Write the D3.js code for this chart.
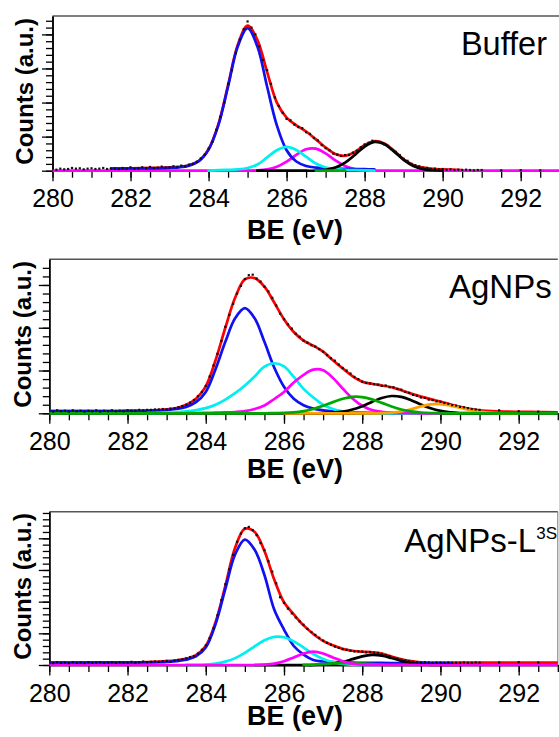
<!DOCTYPE html>
<html><head><meta charset="utf-8">
<script src="https://cdn.jsdelivr.net/npm/d3@7/dist/d3.min.js"></script>
<style>body{margin:0;background:#fff}svg{display:block}</style>
</head><body>
<script>
const _ = null;
// Binding energy sampling grid (eV) for the fitted curves
const BE = [280,280.5,281,281.5,282,282.5,283,283.25,283.5,283.75,284,284.25,284.5,284.75,285,285.25,285.5,285.75,286,286.25,286.5,286.75,287,287.25,287.5,287.75,288,288.25,288.5,288.75,289,289.25,289.5,289.75,290,290.25,290.5,290.75,291,291.5,292,292.5,293];
const X_TICKS = [280,282,284,286,288,290,292];

// ---- Buffer ----
const bufRed     = [_,_,_,.65,.7,.8,.95,1.15,1.6,2.9,6.3,13.6,25.1,37.0,42.6,38.4,29.0,20.0,15.6,13.3,11.5,9.2,6.8,4.9,4.4,5.5,7.55,8.65,8.0,5.9,3.35,1.7,.9,.55,.4,.3,.2,_,_,_,_,_,_];
const bufBlue    = [_,_,_,.6,.65,.7,.85,1.0,1.5,2.8,6.2,13.3,24.7,36.5,41.8,36.5,24.7,13.3,6.0,2.7,1.4,.9,.7,.6,.55,.5,.45,.4,_,_,_,_,_,_,_,_,_,_,_,_,_,_,_];
const bufCyan    = [_,_,_,_,_,_,_,_,_,_,.05,.15,.25,.4,.8,1.8,3.9,6.0,7.0,6.1,4.1,2.1,.95,.45,.25,.15,.1,.05,_,_,_,_,_,_,_,_,_,_,_,_,_,_,_];
const bufMagenta = [0,0,0,0,0,0,0,0,0,0,0,0,0,0,.02,.09,.37,1.13,2.64,4.66,6.28,6.46,5.06,3.02,1.37,.48,.13,.03,0,0,0,0,0,0,0,0,0,0,0,0,0,0,0];
const bufBlack   = [_,_,_,_,_,_,_,_,_,_,_,_,_,_,_,0,0,0,0,0,0,0,.29,.94,2.36,4.64,7.10,8.46,7.85,5.67,3.19,1.40,.48,.13,.03,_,_,_,_,_,_,_,_];
const bufGreen   = [_,_,_,_,_,_,_,_,_,_,_,_,_,_,_,_,_,_,_,_,_,0,0,0,0,_,_,_,_,_,_,_,_,_,_,_,_,_,_,_,_,_,_];

// ---- AgNPs ----
const agRed     = [.5,.5,.5,.52,.55,.62,.9,1.25,2.0,3.4,6.3,12.4,20.0,27.0,31.3,31.6,29.6,25.9,22.0,19.0,17.0,15.8,14.4,12.4,10.5,8.7,7.4,6.9,6.5,6.1,5.4,4.6,3.9,3.3,2.75,2.1,1.5,1.05,.7,.45,.35,.3,.25];
const agBlue    = [.5,.5,.5,.52,.55,.6,.75,1.0,1.5,2.6,5.0,10.3,16.7,22.2,24.6,22.2,16.7,10.7,6.2,3.4,1.9,1.1,.7,.45,.3,.2,.15,.12,.1,.08,.05,_,_,_,_,_,_,_,_,_,_,_,_];
const agCyan    = [_,_,_,_,_,.02,.15,.25,.45,.75,1.2,2.0,3.2,4.7,6.5,8.6,10.9,11.7,10.95,8.5,5.7,3.7,2.0,1.0,.45,.17,.08,.03,0,0,0,0,0,0,0,_,_,_,_,_,_,_,_];
const agMagenta = [_,_,_,_,_,_,_,_,.02,.05,.1,.15,.2,.3,.5,1.0,1.84,3.34,5.0,7.2,9.0,10.2,10.07,8.28,5.8,3.46,1.76,.76,.35,.15,.08,.03,0,0,0,_,_,_,_,_,_,_,_];
const agGreen   = [0,0,0,0,0,0,0,0,0,0,0,0,0,0,0,0,0,.05,.09,.23,.52,1.02,1.75,2.61,3.40,3.86,3.80,3.26,2.44,1.59,.90,.44,.19,.07,.02,0,0,0,0,0,0,0,0];
const agBlack   = [_,_,_,_,_,_,_,_,_,_,_,_,_,_,_,_,_,_,_,_,0,0,.04,.14,.39,.88,1.66,2.66,3.57,4.04,3.83,3.06,2.05,1.16,.55,.22,.07,.02,0,_,_,_,_];
const agOrange  = [_,_,_,_,_,_,_,_,_,_,_,_,_,_,_,_,_,_,0,0,0,0,0,0,0,0,0,0,.05,.16,.44,.94,1.6,2.1,2.16,1.8,1.3,.75,.35,.05,0,_,_];

// ---- AgNPs-L3S ----
const lRed     = [.75,.75,.8,.8,.85,.95,1.2,1.5,2.0,3.1,6.0,13.5,25.0,37.0,43.0,42.0,36.0,27.0,19.8,16.0,12.5,9.8,7.6,6.2,5.1,4.5,4.2,4.0,3.6,2.7,1.8,1.2,.85,.75,.72,.72,.72,.72,.72,.72,.72,.72,.72];
const lBlue    = [.72,.72,.72,.73,.75,.8,.95,1.25,1.7,2.7,5.5,12.9,24.0,34.9,39.6,36.4,28.4,17.5,11.2,6.0,3.3,1.6,1.1,.9,.8,.75,.7,.68,.65,.62,.6,.58,.57,.56,.55,.5,_,_,_,_,_,_,_];
const lCyan    = [_,_,_,_,_,_,_,_,.01,.05,.16,.44,1.05,2.17,3.85,5.9,7.8,8.9,8.77,7.45,5.5,3.47,1.9,.9,.37,.13,.04,0,0,_,_,_,_,_,_,_,_,_,_,_,_,_,_];
const lMagenta = [0,0,0,0,0,0,0,0,0,0,0,0,0,0,0,0,.13,.45,1.2,2.4,3.65,4.2,3.65,2.4,1.2,.45,.13,.03,0,0,0,0,0,0,0,0,0,0,0,0,0,0,0];
const lBlack   = [_,_,_,_,_,_,_,_,_,_,_,_,_,_,_,0,0,0,0,0,0,0,.15,.43,1.0,1.84,2.72,3.18,2.97,2.2,1.32,.62,.24,.07,.02,0,0,_,_,_,_,_,_];
const lGreen   = [_,_,_,_,_,_,_,_,_,_,_,_,_,_,_,_,_,_,_,_,.05,.14,.29,.47,.59,.57,.44,.26,.12,.05,.02,0,0,_,_,_,_,_,_,_,_,_,_];

// Raw data points (measured counts, same units) on a 0.1 eV grid
const DOT_BE = [280.0,280.1,280.2,280.3,280.4,280.5,280.6,280.7,280.8,280.9,
 281.0,281.1,281.2,281.3,281.4,281.5,281.6,281.7,281.8,281.9,
 282.0,282.1,282.2,282.3,282.4,282.5,282.6,282.7,282.8,282.9,
 283.0,283.1,283.2,283.3,283.4,283.5,283.6,283.7,283.8,283.9,
 284.0,284.1,284.2,284.3,284.4,284.5,284.6,284.7,284.8,284.9,
 285.0,285.1,285.2,285.3,285.4,285.5,285.6,285.7,285.8,285.9,
 286.0,286.1,286.2,286.3,286.4,286.5,286.6,286.7,286.8,286.9,
 287.0,287.1,287.2,287.3,287.4,287.5,287.6,287.7,287.8,287.9,
 288.0,288.1,288.2,288.3,288.4,288.5,288.6,288.7,288.8,288.9,
 289.0,289.1,289.2,289.3,289.4,289.5,289.6,289.7,289.8,289.9,
 290.0,290.1,290.2,290.3,290.4,290.5,290.6,290.7,290.8,290.9,
 291.0,291.5,292.0,292.5];
const bufDots = [.5,.3,.6,.4,.5,.8,.6,.7,.4,.6,
 .7,.5,.6,.8,.5,.6,.7,.5,.8,.6,
 1.0,.6,.7,1.0,.7,1.1,.8,.9,1.2,.9,
 1.0,1.3,1.1,1.5,1.3,1.8,2.0,2.6,3.6,4.7,
 6.5,8.5,12.0,15.8,20.0,25.5,29.5,34.5,38.5,41.5,
 43.8,42.0,40.0,36.5,32.5,29.5,25.5,21.5,19.0,17.0,
 15.2,14.8,13.5,12.8,12.5,11.3,10.8,9.6,8.9,7.5,
 6.6,6.0,5.0,4.7,4.3,4.6,4.6,5.3,5.9,6.9,
 7.7,8.2,8.8,8.5,8.4,7.7,7.3,6.2,5.5,4.6,
 3.5,2.9,2.0,1.6,1.3,.9,.8,.5,.6,.4,
 .5,.3,.4,.2,.3,.2,.3,.2,.1,.2,
 .2,.1,.15,.1];
const agDots = [.6,.4,.7,.5,.6,.4,.7,.5,.6,.4,
 .6,.5,.7,.4,.6,.5,.7,.5,.6,.5,
 .7,.6,.6,.8,.7,.8,.8,.9,.9,1.0,
 .9,1.1,1.2,1.4,1.7,2.0,2.5,3.1,4.0,5.0,
 6.4,8.6,11.2,13.9,16.9,20.2,23.0,25.6,28.0,29.8,
 31.4,32.3,32.4,31.5,30.8,29.6,28.5,27.0,25.2,23.3,
 22.0,20.8,19.8,18.6,17.9,17.0,16.5,15.9,15.6,15.0,
 14.4,13.6,12.9,12.3,11.4,10.6,10.0,9.3,8.5,8.0,
 7.4,7.1,7.0,6.8,6.7,6.4,6.5,6.1,6.1,5.7,
 5.5,5.0,4.8,4.3,4.1,3.7,3.6,3.2,3.1,2.8,
 2.7,2.4,2.2,1.9,1.8,1.5,1.4,1.2,1.0,.9,
 .8,.7,.5,.4];
const lDots = [.8,.6,.9,.7,.8,.6,.9,.7,.8,.6,
 .9,.7,.8,.9,.7,.8,.9,.7,.9,.8,
 .8,1.0,.8,.9,1.1,.9,1.0,1.1,1.0,1.2,
 1.3,1.0,1.4,1.6,1.8,2.1,2.5,2.8,3.6,4.8,
 6.2,8.5,11.6,15.7,20.5,25.5,30.2,34.8,38.9,41.5,
 43.2,43.6,42.6,41.0,38.5,36.3,32.8,29.5,25.8,21.4,
 19.6,17.8,16.3,15.0,13.8,12.7,11.4,10.4,9.5,8.6,
 7.7,7.0,6.4,5.8,5.4,5.0,4.8,4.5,4.3,4.3,
 4.2,4.0,4.1,3.9,3.8,3.5,3.1,2.8,2.3,2.0,
 1.7,1.4,1.2,1.0,.9,.8,.9,.8,.7,.8,
 .8,.7,.8,.7,.7,.7,.8,.7,.7,.8,
 .75,.8,.9,.8];

const COLORS = {red:'#ff0000', blue:'#1010f0', cyan:'#00f0f0', magenta:'#ff00ff', black:'#000000', green:'#00a800', orange:'#ffa000'};

const panels = [
  {title:'Buffer', sup:'', box:{l:52.5,r:559.7,t:16,b:170.7}, yMax:45.4, showRight:false,
   series:[[bufRed,'red'],[bufMagenta,'magenta'],[bufBlue,'blue'],[bufCyan,'cyan'],[bufBlack,'black'],[bufGreen,'green']],
   dots:bufDots, titleX:547, titleY:55, titleSize:32.5, tickDy:36.6, xlabY:239.3, ylabX:33},
  {title:'AgNPs', sup:'', box:{l:49.3,r:557.8,t:259.3,b:413.3}, yMax:36.0, showRight:false,
   series:[[agRed,'red'],[agBlue,'blue'],[agCyan,'cyan'],[agMagenta,'magenta'],[agBlack,'black'],[agOrange,'orange'],[agGreen,'green']],
   dots:agDots, titleX:551.7, titleY:298.3, titleSize:33, tickDy:36.7, xlabY:477.6, ylabX:30.5},
  {title:'AgNPs-L', sup:'3S', box:{l:49.3,r:557.8,t:511.7,b:665}, yMax:48.4, showRight:true,
   series:[[lRed,'red'],[lBlue,'blue'],[lCyan,'cyan'],[lBlack,'black'],[lGreen,'green'],[lMagenta,'magenta']],
   dots:lDots, titleX:557, titleY:551.7, titleSize:33, tickDy:37.4, xlabY:725, ylabX:30.5}
];

const FONT = "'Liberation Sans', Arial, Helvetica, sans-serif";
const svg = d3.select('body').append('svg').attr('width',559).attr('height',737);

panels.forEach((p,i)=>{
  const {l,r,t,b} = p.box;
  const x = d3.scaleLinear().domain([280,293]).range([l,r]);
  const y = d3.scaleLinear().domain([0,p.yMax]).range([b,t]);
  const g = svg.append('g');

  // frame
  g.append('line').attr('x1',l).attr('x2',r).attr('y1',t).attr('y2',t).attr('stroke','#555').attr('stroke-width',1.4);
  if(p.showRight) g.append('line').attr('x1',r).attr('x2',r).attr('y1',t).attr('y2',b).attr('stroke','#777').attr('stroke-width',1);

  // y axis
  const yMinor = d3.range(0, p.yMax, 2);
  const yMajor = d3.range(0, p.yMax, 10);
  g.append('g').attr('transform',`translate(${l},0)`).call(d3.axisLeft(y).tickValues(yMinor).tickSize(6.5).tickSizeOuter(0).tickFormat(''));
  g.append('g').attr('transform',`translate(${l},0)`).call(d3.axisLeft(y).tickValues(yMajor).tickSize(10.5).tickSizeOuter(0).tickFormat(''));

  // x axis
  const xMinor = d3.range(280, 293.01, 0.5);
  g.append('g').attr('transform',`translate(0,${b})`).call(d3.axisBottom(x).tickValues(xMinor).tickSize(7).tickSizeOuter(0).tickFormat(''));
  const xa = g.append('g').attr('transform',`translate(0,${b})`).call(d3.axisBottom(x).tickValues(X_TICKS).tickSize(10.5).tickSizeOuter(0).tickFormat(d3.format('d')));
  xa.selectAll('text').attr('y',p.tickDy).attr('dy',0).style('font-family',FONT).style('font-size','25px').attr('fill','#000');
  g.selectAll('.domain').attr('stroke','#000').attr('stroke-width',1.5);
  g.selectAll('.tick line').attr('stroke','#000').attr('stroke-width',1.3);

  // clip
  const cid = 'clip'+i;
  svg.append('clipPath').attr('id',cid).append('rect').attr('x',l).attr('y',t).attr('width',r-l).attr('height',b-t+2);
  const plot = g.append('g').attr('clip-path',`url(#${cid})`);

  const line = d3.line().defined(d=>d[1]!=null).x(d=>x(d[0])).y(d=>y(d[1])).curve(d3.curveCatmullRom.alpha(0.5));
  p.series.forEach(([vals,col])=>{
    const pts = BE.map((be,k)=>[be, vals[k]]);
    plot.append('path').datum(pts).attr('d',line).attr('fill','none')
      .attr('stroke',COLORS[col]).attr('stroke-width',2.7).attr('stroke-linejoin','round').attr('stroke-linecap','round');
  });
  // data points
  plot.selectAll('rect.dot').data(DOT_BE.map((be,k)=>[be,p.dots[k]])).enter().append('rect')
    .attr('class','dot').attr('x',d=>x(d[0])-1.1).attr('y',d=>y(d[1])-1.1).attr('width',2.2).attr('height',2.2).attr('fill','#111');

  // title
  const tt = g.append('text').attr('x',p.titleX).attr('y',p.titleY).attr('text-anchor','end')
    .style('font-family',FONT).style('font-size',p.titleSize+'px').attr('fill','#000').text(p.title);
  if(p.sup) tt.append('tspan').attr('dy',-13).style('font-size','17px').text(p.sup);

  // axis labels
  g.append('text').attr('x',295).attr('y',p.xlabY).attr('text-anchor','middle')
    .style('font-family',FONT).style('font-size','27px').style('font-weight','bold').text('BE (eV)');
  g.append('text').attr('transform',`translate(${p.ylabX},${(t+b)/2-2}) rotate(-90)`).attr('text-anchor','middle')
    .style('font-family',FONT).style('font-size','24px').style('font-weight','bold').text('Counts (a.u.)');
});
</script>
</body></html>
